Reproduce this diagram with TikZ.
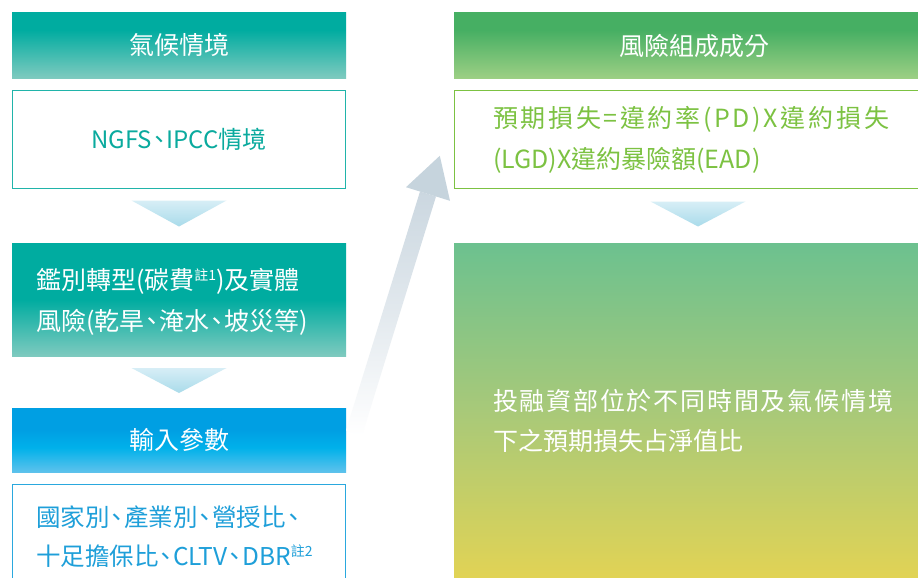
\documentclass[tikz,border=0pt]{standalone}
\usepackage{fontspec}
\setmainfont{Noto Sans CJK TC}
\usetikzlibrary{calc}
\definecolor{tealD}{HTML}{00ACA0}
\definecolor{tealL}{HTML}{7ECABF}
\definecolor{tealLine}{HTML}{20B4AA}
\definecolor{tealText}{HTML}{0AAA9E}
\definecolor{blueD}{HTML}{009FE3}
\definecolor{blueM}{HTML}{00B1EA}
\definecolor{blueL}{HTML}{5DC2EC}
\definecolor{blueLine}{HTML}{2AA8DE}
\definecolor{blueText}{HTML}{1E9FD9}
\definecolor{greenD}{HTML}{46AF63}
\definecolor{greenL}{HTML}{9CCF84}
\definecolor{greenLine}{HTML}{7CC242}
\definecolor{greenText}{HTML}{7CC242}
\definecolor{bigTop}{HTML}{6CC18F}
\definecolor{bigMid}{HTML}{A8C979}
\definecolor{bigBot}{HTML}{E1D355}
\definecolor{triTop}{HTML}{D7EEF6}
\definecolor{triBot}{HTML}{A9DBEA}
\definecolor{arrHead}{HTML}{C6D4DD}
\definecolor{arrTop}{HTML}{CBD7E0}
\pgfdeclareverticalshading{tealhead}{100bp}{color(0bp)=(tealL); color(25bp)=(tealL); color(62bp)=(tealD); color(100bp)=(tealD)}
\pgfdeclareverticalshading{tealbox}{100bp}{color(0bp)=(tealL); color(25bp)=(tealL); color(50bp)=(tealD); color(100bp)=(tealD)}
\pgfdeclareverticalshading{bluehead}{100bp}{color(0bp)=(blueL); color(25bp)=(blueL); color(44bp)=(blueM); color(58bp)=(blueD); color(100bp)=(blueD)}
\pgfdeclareverticalshading{greenhead}{100bp}{color(0bp)=(greenL); color(25bp)=(greenL); color(62bp)=(greenD); color(100bp)=(greenD)}
\newcommand\notesup[1]{\raisebox{9pt}{\fontsize{14}{14}\selectfont #1}}
\newcommand\dun{\makebox[0.6em]{、}}
\begin{document}
\begin{tikzpicture}[x=1pt,y=-1pt,
  boxbase/.style={inner sep=0pt, outer sep=0pt},
  hdr/.style={boxbase, minimum height=65pt, text=white, font=\fontsize{25}{28}\selectfont},
  outl/.style={boxbase, draw, line width=1.5pt, fill=white},
  tri/.style={top color=triTop, bottom color=triBot, draw=none},
  bodytxt/.style={anchor=west, align=left, inner sep=0pt, outer sep=0pt}
]
\useasboundingbox (0,0) rectangle (918,578);
\clip (0,0) rectangle (918,578);
\fill[white] (0,0) rectangle (918,578);

% left column
\node[hdr, shading=tealhead, minimum width=334pt] (h1) at (179,45.5) {氣候情境};
\node[outl, draw=tealLine, minimum width=333pt, minimum height=98pt, text=tealText, font=\fontsize{24}{28}\selectfont] (b2) at (179,139.5) {NGFS\dun IPCC情境};
\node[boxbase, shading=tealbox, minimum width=334pt, minimum height=113pt] (b3) at (179,299.5) {};
\node[bodytxt, text=white, font=\fontsize{25}{41}\selectfont] (t3) at (36,302) {鑑別轉型(碳費\notesup{註1})及實體\\風險(乾旱\dun 淹水\dun 坡災等)};
\node[hdr, shading=bluehead, minimum width=334pt, minimum height=64pt] (h4) at (179,440) {輸入參數};
\node[outl, draw=blueLine, minimum width=333pt, minimum height=140pt] (b5) at (179,554.5) {};
\node[bodytxt, text=blueText, font=\fontsize{24.5}{39}\selectfont] (t5) at (36,536.5) {國家別\dun 產業別\dun 營授比\dun\\十足擔保比\dun CLTV\dun DBR\notesup{註2}};

\shade[tri] ($(b2.south)+(-47.5,12)$) -- ++(95,0) -- ++(-47.5,26) -- cycle;
\shade[tri] ($(b3.south)+(-47.5,12)$) -- ++(95,0) -- ++(-47.5,25) -- cycle;

% right column
\node[hdr, shading=greenhead, minimum width=480pt] (h6) at (694,45.5) {風險組成成分};
\node[outl, draw=greenLine, minimum width=479pt, minimum height=98pt] (b7) at (694,139.5) {};
\node[bodytxt, text=greenText, font=\fontsize{25}{41}\selectfont] (t7) at (493,139.5) {\makebox[396pt][s]{預\hfill 期\hfill 損\hfill 失\hfill =\hfill 違\hfill 約\hfill 率\hfill (\hfill P\hfill D\hfill )\hfill X\hfill 違\hfill 約\hfill 損\hfill 失}\\(LGD)X違約暴險額(EAD)};
\shade[tri] ($(b7.south)+(-43.5,13)$) -- ++(95,0) -- ++(-47.5,25) -- cycle;
\node[boxbase, top color=bigTop, bottom color=bigBot, middle color=bigMid, minimum width=480pt, minimum height=335pt] (b8) at (694,410.5) {};
\node[bodytxt, text=white, font=\fontsize{25}{40}\selectfont] (t8) at (493,420.5) {\makebox[400pt][s]{投\hfill 融\hfill 資\hfill 部\hfill 位\hfill 於\hfill 不\hfill 同\hfill 時\hfill 間\hfill 及\hfill 氣\hfill 候\hfill 情\hfill 境}\\下之預期損失占淨值比};

% diagonal arrow
\coordinate (aS) at (354,433);
\coordinate (aB) at (428,194);
\coordinate (aT) at (439.8,155.8);
\shade[top color=arrTop, bottom color=white, middle color={arrTop!55!white}] (346,430.5) -- (362,435.5) -- (436,196.5) -- (420,191.5) -- cycle;
\fill[arrHead] (406,187.2) -- (aT) -- (450,200.8) -- cycle;
\end{tikzpicture}
\end{document}
